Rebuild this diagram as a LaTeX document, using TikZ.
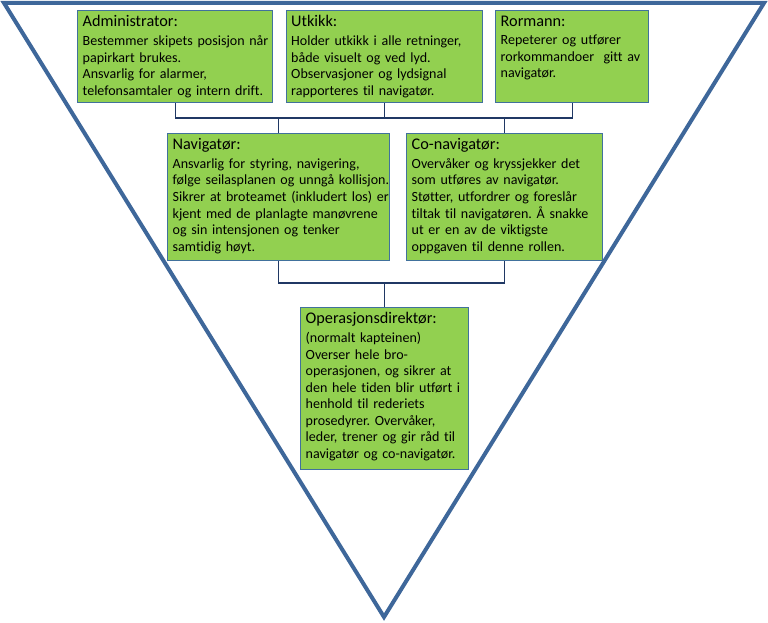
\documentclass[tikz,border=0pt]{standalone}
\usepackage{fontspec}
\setmainfont[Ligatures=NoCommon]{Carlito}
\frenchspacing
\definecolor{boxgreen}{HTML}{92D050}
\definecolor{boxedge}{HTML}{41719C}
\definecolor{conn}{HTML}{203864}
\definecolor{tri}{HTML}{3E679A}
\tikzset{
  box/.style={draw=boxedge, fill=boxgreen, line width=1.4bp, rectangle, anchor=north west, inner sep=0pt},
  txt/.style={anchor=north west, inner xsep=5.5bp, inner ysep=5.5bp, align=left, text=black,
              text width=240bp, font=\fontsize{14.1}{16.6}\selectfont\frenchspacing},
  link/.style={draw=conn, line width=1.3bp},
}
\newcommand{\ttl}[1]{{\fontsize{16.3}{17}\selectfont #1\par}\vspace{2bp}}
\begin{document}
\begin{tikzpicture}[x=1bp,y=-1bp]
\useasboundingbox (0,0) rectangle (768,623);
% triangle
\draw[tri, line width=4bp, line join=miter] (4,3) -- (764,3) -- (384,617) -- cycle;
% boxes
\node[box, minimum width=195bp, minimum height=92bp] (adm) at (77,10) {};
\node[box, minimum width=196bp, minimum height=92bp] (utk) at (285.5,10) {};
\node[box, minimum width=153bp, minimum height=92bp] (rom) at (495,10) {};
\node[box, minimum width=222bp, minimum height=127bp] (nav) at (167,133) {};
\node[box, minimum width=196bp, minimum height=127bp] (con) at (406,133) {};
\node[box, minimum width=168bp, minimum height=162bp] (ops) at (300,307) {};
% texts
\node[txt] (admT) at (adm.north west) {\ttl{Administrator:}Bestemmer skipets posisjon når\\papirkart brukes.\\Ansvarlig for alarmer,\\telefonsamtaler og intern drift.};
\node[txt] (utkT) at (utk.north west) {\ttl{Utkikk:}Holder utkikk i alle retninger,\\både visuelt og ved lyd.\\Observasjoner og lydsignal\\rapporteres til navigatør.};
\node[txt] (romT) at (rom.north west) {\ttl{Rormann:}Repeterer og utfører\\rorkommandoer\ \ gitt av\\navigatør.};
\node[txt] (navT) at (nav.north west) {\ttl{Navigatør:}Ansvarlig for styring, navigering,\\følge seilasplanen og unngå kollisjon.\\Sikrer at broteamet (inkludert los) er\\kjent med de planlagte manøvrene\\og sin intensjonen og tenker\\samtidig høyt.};
\node[txt] (conT) at (con.north west) {\ttl{Co-navigatør:}Overvåker og kryssjekker det\\som utføres av navigatør.\\Støtter, utfordrer og foreslår\\tiltak til navigatøren. Å snakke\\ut er en av de viktigste\\oppgaven til denne rollen.};
\node[txt] (opsT) at (ops.north west) {\ttl{Operasjonsdirektør:}(normalt kapteinen)\\Overser hele bro-\\operasjonen, og sikrer at\\den hele tiden blir utført i\\henhold til rederiets\\prosedyrer. Overvåker,\\leder, trener og gir råd til\\navigatør og co-navigatør.};
% connectors
\coordinate (j1) at (utk.south |- 0,118);
\coordinate (j2) at (ops.north |- 0,283);
\draw[link] (adm.south) |- (j1) -| (rom.south);
\draw[link] (utk.south) -- (j1);
\draw[link] (nav.north) -- (nav.north |- j1);
\draw[link] (con.north) -- (con.north |- j1);
\draw[link] (nav.south) |- (j2) -| (con.south);
\draw[link] (ops.north) -- (j2);
\end{tikzpicture}
\end{document}
